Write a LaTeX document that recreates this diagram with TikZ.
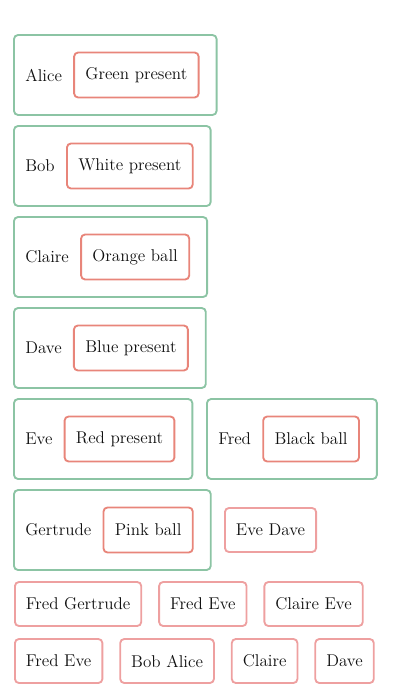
\documentclass[tikz,border=0pt]{standalone}
\usepackage{xcolor}
\usepackage{tikz}
\usetikzlibrary{positioning,fit}
\definecolor{boxgreen}{HTML}{8cc4a4}
\definecolor{giftred}{HTML}{e8857a}
\definecolor{pairred}{HTML}{eea0a0}
\definecolor{ink}{HTML}{111111}

\begin{document}
\begin{tikzpicture}[x=0.75pt,y=-0.75pt,font=\fontsize{12.8pt}{15pt}\selectfont,color=ink,
  node distance=8.25pt,
  who/.style={inner sep=0pt,anchor=west},
  gift/.style={draw=giftred,line width=1.4pt,rounded corners=3pt,minimum height=33.75pt,inner xsep=8.5pt},
  person/.style={draw=boxgreen,line width=1.4pt,rounded corners=3pt,inner xsep=0pt,inner ysep=12.4pt},
  pair/.style={draw=pairred,line width=1.4pt,rounded corners=3pt,minimum height=33pt,inner xsep=8.25pt}]
  \useasboundingbox (0,0) rectangle (400,698);
  % people with the present each one holds
  \foreach \n/\who/\what/\y in {alice/Alice/Green present/75,bob/Bob/White present/166,
      claire/Claire/Orange ball/257,dave/Dave/Blue present/348,eve/Eve/Red present/439,
      gertrude/Gertrude/Pink ball/530} {
    \node[who] (\n) at (25,\y) {\who};
    \node[gift,right=of \n] (\n-gift) {\what};
    \node[person,fit={([xshift=-8.25pt]\n.west) ([xshift=12.75pt]\n-gift.east) (\n-gift.north) (\n-gift.south)}] (\n-box) {};
  }
  \node[who] (fred) at (218,439) {Fred};
  \node[gift,right=of fred] (fred-gift) {Black ball};
  \node[person,fit={([xshift=-8.25pt]fred.west) ([xshift=12.75pt]fred-gift.east) (fred-gift.north) (fred-gift.south)}] (fred-box) {};
  % loose pairs
  \node[pair,anchor=west] (evedave) at (224,530) {Eve Dave};
  \node[pair,anchor=west] (fredgertrude) at (14,604) {Fred Gertrude};
  \node[pair,right=12pt of fredgertrude] (fredeve) {Fred Eve};
  \node[pair,right=12pt of fredeve] (claireeve) {Claire Eve};
  \node[pair,anchor=west] (fredeve2) at (14,661) {Fred Eve};
  \node[pair,right=12pt of fredeve2] (bobalice) {Bob Alice};
  \node[pair,right=12pt of bobalice] (claire2) {Claire};
  \node[pair,right=12pt of claire2] (dave2) {Dave};
\end{tikzpicture}
\end{document}
